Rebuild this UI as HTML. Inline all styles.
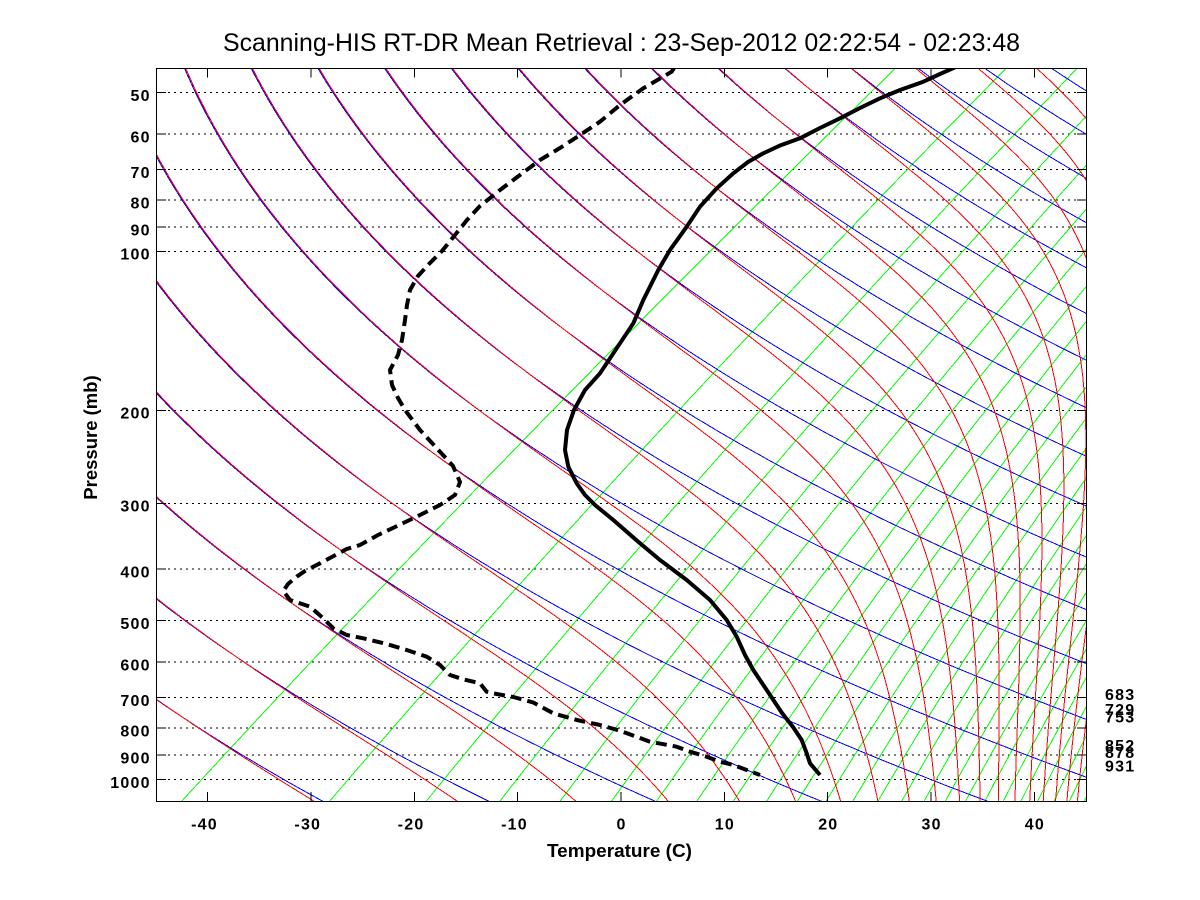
<!DOCTYPE html>
<html><head><meta charset="utf-8">
<style>
html,body{margin:0;padding:0;background:#fff;}
svg{display:block;}
text{font-family:"Liberation Sans",Arial,Helvetica,sans-serif;fill:#000;}
.t{font-weight:bold;font-size:16px;letter-spacing:1.2px;}
</style></head><body>
<svg id="s" width="1200" height="900" viewBox="0 0 1200 900" xmlns="http://www.w3.org/2000/svg">
<rect width="1200" height="900" fill="#fff"/>
<defs><clipPath id="c"><rect x="156.5" y="68.5" width="930" height="733"/></clipPath></defs>

<g stroke="#000" stroke-width="1" stroke-dasharray="2 4" shape-rendering="crispEdges">
<line x1="156" y1="92.4" x2="1086" y2="92.4"/>
<line x1="156" y1="134.2" x2="1086" y2="134.2"/>
<line x1="156" y1="169.5" x2="1086" y2="169.5"/>
<line x1="156" y1="200.2" x2="1086" y2="200.2"/>
<line x1="156" y1="227.2" x2="1086" y2="227.2"/>
<line x1="156" y1="251.3" x2="1086" y2="251.3"/>
<line x1="156" y1="410.3" x2="1086" y2="410.3"/>
<line x1="156" y1="503.3" x2="1086" y2="503.3"/>
<line x1="156" y1="569.2" x2="1086" y2="569.2"/>
<line x1="156" y1="620.4" x2="1086" y2="620.4"/>
<line x1="156" y1="662.2" x2="1086" y2="662.2"/>
<line x1="156" y1="697.6" x2="1086" y2="697.6"/>
<line x1="156" y1="728.2" x2="1086" y2="728.2"/>
<line x1="156" y1="755.2" x2="1086" y2="755.2"/>
<line x1="156" y1="779.4" x2="1086" y2="779.4"/>
</g>

<g id="lines" clip-path="url(#c)" fill="none" stroke-width="1" shape-rendering="crispEdges"></g>

<g clip-path="url(#c)" fill="none" stroke="#000" stroke-linejoin="round">
<path stroke-width="4" d="M958 66 L940 74 L923.3 81.7 L900 90 L880 98.3 L860 108 L840 118.3 L820 128 L800 138.3 L780 145.5 L763.3 153.3 L748 162 L733.3 173.3 L716.7 188.3 L700 206.7 L686.7 226.7 L670 250 L658.3 270 L643.3 300 L633.3 323.3 L620 343.3 L600 373.3 L585 390 L574 410 L567 430 L565 450 L568.3 466.7 L576.7 483.3 L585 495 L595 505 L613.3 520 L640 543.3 L660 560 L686.7 580 L710 600 L726.7 620 L736.7 636.7 L745 655 L753.3 670 L768 692 L782 713 L793 727 L801.7 740 L806.7 753.3 L810 763.3 L820 775"/>
<path stroke-width="4" stroke-dasharray="11 6" d="M674 68 L671.7 71.7 L643.3 88.3 L620 105 L600 121.7 L580 135 L560 148 L540 160 L520 175 L500 190 L480 206 L467 220 L455 235 L442 251 L428 265 L418 276 L410 290 L407 305 L405 320 L402 340 L398 355 L390 370 L392 385 L398 398 L405 410 L420 430 L432 443 L443 455 L453 466 L460 482 L455 495 L440 505 L420 515 L395 527 L378 535 L360 545 L346.7 549 L320 563.3 L305 571 L296.7 576.7 L288 584 L283.3 591 L290 600 L310 606.7 L323.3 618.3 L333.3 628.3 L346.7 635 L363.3 638.3 L386.7 644 L406.7 650 L426.7 656.7 L440 665 L450 675 L463.3 679.3 L480 683.3 L486.7 691.7 L496.7 694 L513.3 697 L533.3 702.5 L553.3 713.3 L576.7 720 L600 725 L620 730.7 L650 741.7 L676.7 746.7 L690 751.7 L706.7 756.7 L720 761.7 L733.3 765 L746.7 770 L760 775"/>
</g>

<rect x="156.5" y="68.5" width="930" height="733" fill="none" stroke="#000" stroke-width="1" shape-rendering="crispEdges"/>

<g stroke="#000" stroke-width="1" shape-rendering="crispEdges">
<line x1="156" y1="92.4" x2="166" y2="92.4"/><line x1="156" y1="134.2" x2="166" y2="134.2"/><line x1="156" y1="169.5" x2="166" y2="169.5"/><line x1="156" y1="200.2" x2="166" y2="200.2"/><line x1="156" y1="227.2" x2="166" y2="227.2"/><line x1="156" y1="251.3" x2="166" y2="251.3"/><line x1="156" y1="410.3" x2="166" y2="410.3"/><line x1="156" y1="503.3" x2="166" y2="503.3"/><line x1="156" y1="569.2" x2="166" y2="569.2"/><line x1="156" y1="620.4" x2="166" y2="620.4"/><line x1="156" y1="662.2" x2="166" y2="662.2"/><line x1="156" y1="697.6" x2="166" y2="697.6"/><line x1="156" y1="728.2" x2="166" y2="728.2"/><line x1="156" y1="755.2" x2="166" y2="755.2"/><line x1="156" y1="779.4" x2="166" y2="779.4"/>
<line x1="1077" y1="92.4" x2="1087" y2="92.4"/><line x1="1077" y1="134.2" x2="1087" y2="134.2"/><line x1="1077" y1="169.5" x2="1087" y2="169.5"/><line x1="1077" y1="200.2" x2="1087" y2="200.2"/><line x1="1077" y1="227.2" x2="1087" y2="227.2"/><line x1="1077" y1="251.3" x2="1087" y2="251.3"/><line x1="1077" y1="410.3" x2="1087" y2="410.3"/><line x1="1077" y1="503.3" x2="1087" y2="503.3"/><line x1="1077" y1="569.2" x2="1087" y2="569.2"/><line x1="1077" y1="620.4" x2="1087" y2="620.4"/><line x1="1077" y1="662.2" x2="1087" y2="662.2"/><line x1="1077" y1="697.6" x2="1087" y2="697.6"/><line x1="1077" y1="728.2" x2="1087" y2="728.2"/><line x1="1077" y1="755.2" x2="1087" y2="755.2"/><line x1="1077" y1="779.4" x2="1087" y2="779.4"/>
<line x1="207.7" y1="792" x2="207.7" y2="801.5"/><line x1="311" y1="792" x2="311" y2="801.5"/><line x1="414.3" y1="792" x2="414.3" y2="801.5"/><line x1="517.7" y1="792" x2="517.7" y2="801.5"/><line x1="621" y1="792" x2="621" y2="801.5"/><line x1="724.3" y1="792" x2="724.3" y2="801.5"/><line x1="827.7" y1="792" x2="827.7" y2="801.5"/><line x1="931" y1="792" x2="931" y2="801.5"/><line x1="1034.3" y1="792" x2="1034.3" y2="801.5"/>
<line x1="207.7" y1="68.5" x2="207.7" y2="77.5"/><line x1="311" y1="68.5" x2="311" y2="77.5"/><line x1="414.3" y1="68.5" x2="414.3" y2="77.5"/><line x1="517.7" y1="68.5" x2="517.7" y2="77.5"/><line x1="621" y1="68.5" x2="621" y2="77.5"/><line x1="724.3" y1="68.5" x2="724.3" y2="77.5"/><line x1="827.7" y1="68.5" x2="827.7" y2="77.5"/><line x1="931" y1="68.5" x2="931" y2="77.5"/><line x1="1034.3" y1="68.5" x2="1034.3" y2="77.5"/>
</g>

<text x="621.5" y="51" font-size="25" text-anchor="middle" textLength="797" lengthAdjust="spacingAndGlyphs">Scanning-HIS RT-DR Mean Retrieval : 23-Sep-2012 02:22:54 - 02:23:48</text>

<g class="t" text-anchor="end">
<text x="150.7" y="100.8">50</text>
<text x="150.7" y="142.6">60</text>
<text x="150.7" y="177.9">70</text>
<text x="150.7" y="208.6">80</text>
<text x="150.7" y="235.6">90</text>
<text x="150.7" y="259.7">100</text>
<text x="150.7" y="418.7">200</text>
<text x="150.7" y="511.7">300</text>
<text x="150.7" y="577.6">400</text>
<text x="150.7" y="628.8">500</text>
<text x="150.7" y="670.6">600</text>
<text x="150.7" y="706">700</text>
<text x="150.7" y="736.6">800</text>
<text x="150.7" y="763.6">900</text>
<text x="150.7" y="787.8">1000</text>
</g>

<g class="t" text-anchor="middle">
<text x="204.5" y="829.3">-40</text>
<text x="307.8" y="829.3">-30</text>
<text x="411.1" y="829.3">-20</text>
<text x="514.5" y="829.3">-10</text>
<text x="621.6" y="829.3">0</text>
<text x="724.9" y="829.3">10</text>
<text x="828.3" y="829.3">20</text>
<text x="931.6" y="829.3">30</text>
<text x="1034.9" y="829.3">40</text>
</g>

<g class="t" text-anchor="start">
<text x="1105" y="700.2">683</text>
<text x="1105" y="715">729</text>
<text x="1105" y="722.6">753</text>
<text x="1105" y="750.9">852</text>
<text x="1105" y="757.8">878</text>
<text x="1105" y="771.3">931</text>
</g>

<text x="619.5" y="857" font-size="18.5" font-weight="bold" text-anchor="middle" textLength="145" lengthAdjust="spacingAndGlyphs">Temperature (C)</text>
<text transform="translate(97,437.5) rotate(-90)" x="0" y="0" font-size="18.5" font-weight="bold" text-anchor="middle">Pressure (mb)</text>
</svg>
<script>
(function(){
var NS="http://www.w3.org/2000/svg";
var g=document.getElementById('lines');
var X0=621,K=10.3333,S=310;
function px(Tc,p){return X0+K*Tc-S*Math.log(p/1000);}
function py(p){return 68.2+229.33*Math.log(p/45);}
var ps=[],N=240;
for(var i=0;i<=N;i++){ps.push(43*Math.exp(Math.log(1115/43)*i/N));}
function es(Tc){return 6.112*Math.exp(17.67*Tc/(Tc+243.5));}
function add(pts,col){
  if(pts.length<2)return;
  var d='M'+pts.map(function(q){return q[0].toFixed(1)+' '+q[1].toFixed(1);}).join('L');
  var e=document.createElementNS(NS,'path');
  e.setAttribute('d',d);e.setAttribute('stroke',col);g.appendChild(e);
}
for(var n=1;n<=30;n++){
  var w=n*n/9,pts=[];
  ps.forEach(function(p){var e=w*p/(622+w);var l=Math.log(e/6.112);var Td=243.5*l/(17.67-l);pts.push([px(Td,p),py(p)]);});
  add(pts,'#00ff00');
}
var ths=[];for(var m=-6;m<=18;m++)ths.push(303.1+15.65*m);
ths.forEach(function(th){
  var pts=[];
  ps.forEach(function(p){var T=th*Math.pow(p/1000,0.2857);pts.push([px(T-273.15,p),py(p)]);});
  add(pts,'#0000ff');
});
function the(T,p){var e=es(T-273.15);if(e>=p*0.9)return 1e9;var ws=0.622*e/(p-e);return T*Math.pow(1000/p,0.2857)*Math.exp(2.5e6*ws/(1004*T));}
ths.forEach(function(th){
  var pts=[];
  ps.forEach(function(p){
    var lo=60,hi=360;
    if(the(hi,p)<th||the(lo,p)>th)return;
    for(var k=0;k<50;k++){var mm=(lo+hi)/2;if(the(mm,p)<th)lo=mm;else hi=mm;}
    pts.push([px(lo-273.15,p)+1.2,py(p)]);
  });
  add(pts,'#ff0000');
});
})();
</script>
</body></html>
